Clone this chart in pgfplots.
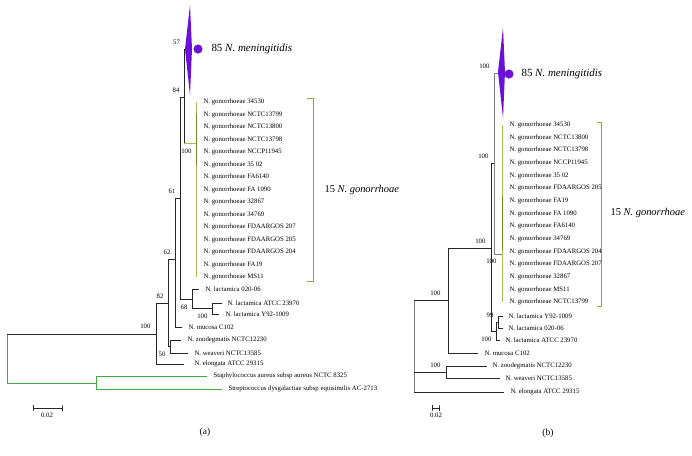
\documentclass[border=0pt]{standalone}
\usepackage{pgfplots}
\pgfplotsset{compat=1.18}
\usepackage{fontspec}
\setmainfont{Liberation Serif}
\definecolor{menpurple}{HTML}{6A10D9}
\definecolor{gonolive}{HTML}{A9BE52}
\definecolor{gonodark}{HTML}{6E8B1E}
\definecolor{brolive}{HTML}{8FA637}
\definecolor{outgreen}{HTML}{45AA45}
\newcommand{\tip}{\fontsize{6.8}{7}\selectfont}
\newcommand{\bs}{\fontsize{6.8}{7}\selectfont}
\begin{document}
\begin{tikzpicture}
\path[use as bounding box] (0,0) rectangle (692bp,456bp);
\begin{axis}[
  at={(0,0)}, anchor=south west,
  x=1bp, y=1bp, y dir=reverse,
  xmin=0, xmax=692, ymin=0, ymax=456,
  hide axis, clip=false, no markers,
  tr/.style={black!85, line width=0.7pt},
  trg/.style={black!50, line width=0.7pt},
  og/.style={outgreen, line width=0.7pt},
  go/.style={gonolive, line width=0.7pt},
  gd/.style={gonodark, line width=1.1pt},
  br/.style={brolive, line width=0.7pt},
  every node/.append style={inner sep=0pt},
]
% ================= panel (a) =================
\addplot[fill=menpurple, draw=none] coordinates {(190,5) (185,49) (190,95) (192,49) (190,5)};
\addplot[only marks, mark=*, mark size=4.3pt, menpurple] coordinates {(198,49)};
% root and outgroup
\addplot[trg] coordinates {(7,334) (7,383)};
\addplot[tr] coordinates {(7,334) (156,334)};
\addplot[og] coordinates {(7,383) (96,383)};
\addplot[og] coordinates {(96,383) (96,376) (207,376)};
\addplot[og] coordinates {(96,383) (96,389) (222,389)};
% ingroup
\addplot[tr] coordinates {(156,334) (156,303) (168,303)};
\addplot[tr] coordinates {(156,334) (156,364) (184,364)};
\addplot[tr] coordinates {(168,303) (168,259) (175,259)};
\addplot[tr] coordinates {(168,303) (168,346) (170,346)};
\addplot[tr] coordinates {(170,346) (170,340) (181,340)};
\addplot[tr] coordinates {(170,346) (170,353) (188,353)};
\addplot[tr] coordinates {(175,259) (175,198) (180,198)};
\addplot[tr] coordinates {(175,259) (175,327) (182,327)};
\addplot[tr] coordinates {(180,198) (180,97) (184,97)};
\addplot[tr] coordinates {(180,198) (180,299) (192,299)};
\addplot[tr] coordinates {(192,299) (192,289) (199,289)};
\addplot[tr] coordinates {(192,299) (192,308.5) (212,308.5)};
\addplot[tr] coordinates {(212,308.5) (212,303) (222,303)};
\addplot[tr] coordinates {(212,308.5) (212,314) (219,314)};
\addplot[tr] coordinates {(184,97) (184,49) (185,49)};
\addplot[tr] coordinates {(184,97) (184,143)};
\addplot[go] coordinates {(184,143) (196,143)};
\addplot[go] coordinates {(196,102) (196,277)};
\addplot[gd] coordinates {(196.5,113) (196.5,165)};
% bracket
\addplot[br] coordinates {(307,98) (313,98) (313,281) (307,281)};
% scale bar
\addplot[tr] coordinates {(33,405) (33,411) (33,408) (62,408) (62,405) (62,411)};

% bootstrap values (a)
\node[anchor=south east] at (axis cs:183.5,48) {\bs 57};
\node[anchor=south east] at (axis cs:183,96) {\bs 84};
\node[anchor=south east] at (axis cs:179,197) {\bs 61};
\node[anchor=south east] at (axis cs:174,258) {\bs 62};
\node[anchor=south east] at (axis cs:167,302) {\bs 82};
\node[anchor=south east] at (axis cs:154,332) {\bs 100};
\node[anchor=north east] at (axis cs:191,301) {\bs 68};
\node[anchor=north east] at (axis cs:211,310) {\bs 100};
\node[anchor=north east] at (axis cs:169,348) {\bs 50};
\node[anchor=north east] at (axis cs:195,145) {\bs 100};

% tip labels (a)
\node[anchor=west] at (axis cs:208,49) {\fontsize{11}{12}\selectfont 85 \textit{N. meningitidis}};
\node[anchor=west] at (axis cs:200,102) {\tip N. gonorrhoeae 34530};
\node[anchor=west] at (axis cs:200,114.5) {\tip N. gonorrhoeae NCTC13799};
\node[anchor=west] at (axis cs:200,127) {\tip N. gonorrhoeae NCTC13800};
\node[anchor=west] at (axis cs:200,139.5) {\tip N. gonorrhoeae NCTC13798};
\node[anchor=west] at (axis cs:200,152) {\tip N. gonorrhoeae NCCP11945};
\node[anchor=west] at (axis cs:200,164.5) {\tip N. gonorrhoeae 35 02};
\node[anchor=west] at (axis cs:200,177) {\tip N. gonorrhoeae FA6140};
\node[anchor=west] at (axis cs:200,189.5) {\tip N. gonorrhoeae FA 1090};
\node[anchor=west] at (axis cs:200,202) {\tip N. gonorrhoeae 32867};
\node[anchor=west] at (axis cs:200,214.5) {\tip N. gonorrhoeae 34769};
\node[anchor=west] at (axis cs:200,227) {\tip N. gonorrhoeae FDAARGOS 207};
\node[anchor=west] at (axis cs:200,239.5) {\tip N. gonorrhoeae FDAARGOS 205};
\node[anchor=west] at (axis cs:200,252) {\tip N. gonorrhoeae FDAARGOS 204};
\node[anchor=west] at (axis cs:200,264.5) {\tip N. gonorrhoeae FA19};
\node[anchor=west] at (axis cs:200,277) {\tip N. gonorrhoeae MS11};
\node[anchor=west] at (axis cs:202,289) {\tip N. lactamica 020-06};
\node[anchor=west] at (axis cs:224,303) {\tip N. lactamica ATCC 23970};
\node[anchor=west] at (axis cs:222,314) {\tip N. lactamica Y92-1009};
\node[anchor=west] at (axis cs:185,327) {\tip N. mucosa C102};
\node[anchor=west] at (axis cs:184,340) {\tip N. zoodegmatis NCTC12230};
\node[anchor=west] at (axis cs:191,353) {\tip N. weaveri NCTC13585};
\node[anchor=west] at (axis cs:191,364) {\tip N. elongata ATCC 29315};
\node[anchor=west] at (axis cs:210,376) {\tip Staphylococcus aureus subsp aureus NCTC 8325};
\node[anchor=west] at (axis cs:225,389) {\tip Streptococcus dysgalactiae subsp equisimilis AC-2713};
\node[anchor=west] at (axis cs:321,190) {\fontsize{10.5}{12}\selectfont 15 \textit{N. gonorrhoae}};
\node at (axis cs:47,415) {\bs 0.02};
\node at (axis cs:205,432) {\fontsize{9.5}{10}\selectfont (a)};

% ================= panel (b) =================
\addplot[fill=menpurple, draw=none] coordinates {(503,28) (498,72) (503,118) (505,72) (503,28)};
\addplot[only marks, mark=*, mark size=4.3pt, menpurple] coordinates {(509,74)};
\addplot[trg] coordinates {(414,300) (414,392)};
\addplot[tr] coordinates {(414,300) (448,300)};
\addplot[tr] coordinates {(414,372) (446,372)};
\addplot[tr] coordinates {(414,392) (504,392)};
\addplot[tr] coordinates {(448,300) (448,248) (491,248)};
\addplot[tr] coordinates {(448,300) (448,353) (478,353)};
\addplot[tr] coordinates {(446,372) (446,366) (487,366)};
\addplot[tr] coordinates {(446,372) (446,378) (500,378)};
\addplot[tr] coordinates {(491,248) (491,163) (494,163)};
\addplot[tr] coordinates {(491,248) (491,331) (496,331)};
\addplot[trg] coordinates {(494,163) (494,73) (498,73)};
\addplot[trg] coordinates {(494,163) (494,254) (502,254)};
\addplot[go] coordinates {(502,125) (502,302)};
\addplot[gd] coordinates {(502.5,196) (502.5,250)};
\addplot[tr] coordinates {(496,331) (496,322) (498,322)};
\addplot[tr] coordinates {(496,331) (496,340) (500,340)};
\addplot[tr] coordinates {(498,322) (498,316) (503,316)};
\addplot[tr] coordinates {(498,322) (498,328) (503,328)};
\addplot[br] coordinates {(597,122) (601,122) (601,306) (597,306)};
\addplot[tr] coordinates {(432,405) (432,411) (432,408) (439,408) (439,405) (439,411)};

% bootstrap values (b)
\node[anchor=south east] at (axis cs:493,72) {\bs 100};
\node[anchor=south east] at (axis cs:492,162) {\bs 100};
\node[anchor=south east] at (axis cs:489,247) {\bs 100};
\node[anchor=south east] at (axis cs:444,299) {\bs 100};
\node[anchor=south east] at (axis cs:444,371) {\bs 100};
\node[anchor=north east] at (axis cs:500,255) {\bs 100};
\node[anchor=south east] at (axis cs:497,321) {\bs 99};
\node[anchor=north east] at (axis cs:495,333) {\bs 100};

% tip labels (b)
\node[anchor=west] at (axis cs:518,74) {\fontsize{11}{12}\selectfont 85 \textit{N. meningitidis}};
\node[anchor=west] at (axis cs:506,125) {\tip N. gonorrhoeae 34530};
\node[anchor=west] at (axis cs:506,137.6) {\tip N. gonorrhoeae NCTC13800};
\node[anchor=west] at (axis cs:506,150.3) {\tip N. gonorrhoeae NCTC13798};
\node[anchor=west] at (axis cs:506,162.9) {\tip N. gonorrhoeae NCCP11945};
\node[anchor=west] at (axis cs:506,175.6) {\tip N. gonorrhoeae 35 02};
\node[anchor=west] at (axis cs:506,188.2) {\tip N. gonorrhoeae FDAARGOS 205};
\node[anchor=west] at (axis cs:506,200.9) {\tip N. gonorrhoeae FA19};
\node[anchor=west] at (axis cs:506,213.5) {\tip N. gonorrhoeae FA 1090};
\node[anchor=west] at (axis cs:506,226.1) {\tip N. gonorrhoeae FA6140};
\node[anchor=west] at (axis cs:506,238.8) {\tip N. gonorrhoeae 34769};
\node[anchor=west] at (axis cs:506,251.4) {\tip N. gonorrhoeae FDAARGOS 204};
\node[anchor=west] at (axis cs:506,264.1) {\tip N. gonorrhoeae FDAARGOS 207};
\node[anchor=west] at (axis cs:506,276.7) {\tip N. gonorrhoeae 32867};
\node[anchor=west] at (axis cs:506,289.4) {\tip N. gonorrhoeae MS11};
\node[anchor=west] at (axis cs:506,302) {\tip N. gonorrhoeae NCTC13799};
\node[anchor=west] at (axis cs:505,316) {\tip N. lactamica Y92-1009};
\node[anchor=west] at (axis cs:505,328) {\tip N. lactamica 020-06};
\node[anchor=west] at (axis cs:502,340) {\tip N. lactamica ATCC 23970};
\node[anchor=west] at (axis cs:481,353) {\tip N. mucosa C102};
\node[anchor=west] at (axis cs:489,366) {\tip N. zoodegmatis NCTC12230};
\node[anchor=west] at (axis cs:502,378) {\tip N. weaveri NCTC13585};
\node[anchor=west] at (axis cs:507,392) {\tip N. elongata ATCC 29315};
\node[anchor=west] at (axis cs:607,213) {\fontsize{10.5}{12}\selectfont 15 \textit{N. gonorrhoae}};
\node at (axis cs:436,415) {\bs 0.02};
\node at (axis cs:548,433) {\fontsize{9.5}{10}\selectfont (b)};
\end{axis}
\end{tikzpicture}
\end{document}
